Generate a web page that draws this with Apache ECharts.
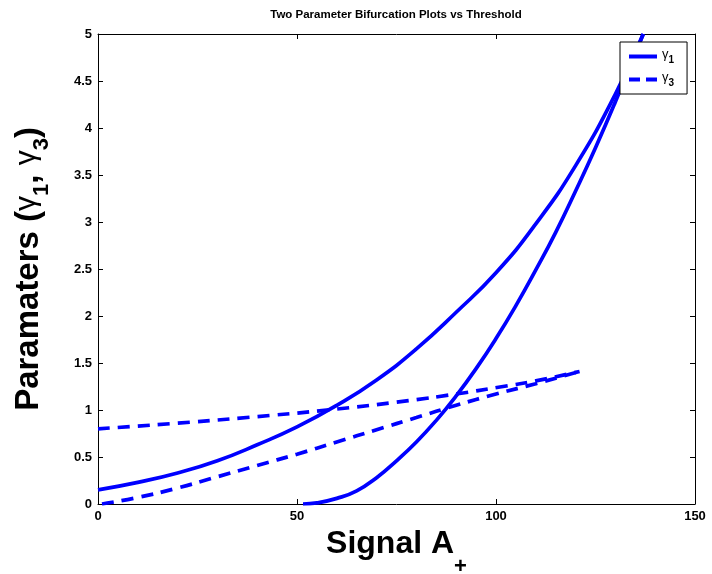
<!DOCTYPE html>
<html>
<head>
<meta charset="utf-8">
<script src="https://cdn.jsdelivr.net/npm/echarts@6/dist/echarts.min.js"></script>
<style>html,body{margin:0;padding:0;background:#fff}#c{width:712px;height:574px}</style>
</head>
<body>
<div id="c"></div>
<script>
// gamma1 upper branch
var g1UpperX = [0, 10, 20, 30, 40, 50, 60, 70, 80, 90, 100, 110, 120, 130, 137];
var g1UpperY = [0.15, 0.23, 0.33, 0.46, 0.63, 0.82, 1.05, 1.32, 1.65, 2.04, 2.46, 2.98, 3.60, 4.36, 5.0];
// gamma1 lower branch
var g1LowerX = [51.5, 55, 60, 65, 70, 75, 80, 85, 90, 95, 100, 105, 110, 115, 120, 125, 130, 137];
var g1LowerY = [0.0, 0.012, 0.06, 0.14, 0.28, 0.46, 0.66, 0.89, 1.15, 1.44, 1.76, 2.11, 2.49, 2.89, 3.33, 3.79, 4.28, 5.0];
// gamma3 upper branch
var g3UpperX = [0, 20, 40, 60, 78, 90, 101, 110, 121];
var g3UpperY = [0.80, 0.86, 0.93, 1.01, 1.10, 1.17, 1.245, 1.31, 1.41];
// gamma3 lower branch
var g3LowerX = [1, 10, 20, 30, 40, 50, 60, 70, 80, 90, 100, 110, 121];
var g3LowerY = [0.0, 0.07, 0.17, 0.29, 0.41, 0.53, 0.66, 0.79, 0.92, 1.05, 1.17, 1.28, 1.41];

var xTicks = [0, 50, 100, 150];
var yTicks = [0, 0.5, 1, 1.5, 2, 2.5, 3, 3.5, 4, 4.5, 5];

function pairs(xs, ys) { return xs.map(function (x, i) { return [x, ys[i]]; }); }

var FONT = '"Liberation Sans", Arial, Helvetica, sans-serif';
var BLUE = '#0000ff';

var chart = echarts.init(document.getElementById('c'), null, {renderer: 'canvas'});

function lineSeries(name, data, dashed) {
  return {
    name: name, type: 'line', data: data, smooth: true, symbol: 'none', showSymbol: false,
    clip: true, animation: false,
    lineStyle: {color: BLUE, width: 3.7, type: dashed ? [12, 8] : 'solid'},
    itemStyle: {color: BLUE}
  };
}

var axisCommonX = {
  type: 'value', min: 0, max: 150, interval: 50,
  axisLine: {show: true, onZero: false, lineStyle: {color: '#000', width: 1}},
  axisTick: {show: true, inside: true, length: 5, lineStyle: {color: '#000'}},
  splitLine: {show: false}
};
var axisCommonY = {
  type: 'value', min: 0, max: 5, interval: 0.5,
  axisLine: {show: true, onZero: false, lineStyle: {color: '#000', width: 1}},
  axisTick: {show: true, inside: true, length: 5, lineStyle: {color: '#000'}},
  splitLine: {show: false}
};

chart.setOption({
  backgroundColor: '#fff',
  animation: false,
  grid: {left: 98, right: 17, top: 34, bottom: 70, containLabel: false, outerBoundsMode: 'none'},
  graphic: [{
    type: 'text', x: 396, y: 9,
    style: {text: 'Two Parameter Bifurcation Plots vs Threshold', textAlign: 'center',
      font: 'bold 11.5px ' + FONT, fill: '#000'}
  }],
  legend: {
    orient: 'vertical', left: 620, top: 42,
    padding: [6, 13, 6, 9], itemGap: 6, itemWidth: 28, itemHeight: 4,
    backgroundColor: '#fff', borderColor: '#000', borderWidth: 1,
    data: [
      {name: 'g1', icon: 'path://M0,0H28V4H0Z'},
      {name: 'g3', icon: 'path://M0,0H11V4H0Z M17,0H28V4H17Z'}
    ],
    formatter: function (n) { return n === 'g1' ? '{g|γ}{s|1}' : '{g|γ}{s|3}'; },
    textStyle: {
      fontFamily: FONT, color: '#000',
      rich: {
        g: {fontSize: 13, fontFamily: FONT, lineHeight: 14, verticalAlign: 'top', color: '#000'},
        s: {fontSize: 10, fontFamily: FONT, fontWeight: 'bold', lineHeight: 17, verticalAlign: 'bottom', color: '#000'}
      }
    }
  },
  xAxis: [
    Object.assign({}, axisCommonX, {
      position: 'bottom',
      axisLabel: {show: true, color: '#000', fontWeight: 'bold', fontSize: 13, fontFamily: FONT, margin: 6,
        formatter: function (v) { return xTicks.indexOf(v) >= 0 ? String(v) : ''; }},
      name: '{m|Signal A}{s|+}', nameLocation: 'middle', nameGap: 17,
      nameTextStyle: {
        fontFamily: FONT, color: '#000',
        rich: {
          m: {fontSize: 32, fontWeight: 'bold', fontFamily: FONT, lineHeight: 36, verticalAlign: 'top', color: '#000'},
          s: {fontSize: 22, fontWeight: 'bold', fontFamily: FONT, lineHeight: 50, verticalAlign: 'bottom', color: '#000'}
        }
      }
    }),
    Object.assign({}, axisCommonX, {position: 'top', axisLabel: {show: false}})
  ],
  yAxis: [
    Object.assign({}, axisCommonY, {
      position: 'left',
      axisLabel: {show: true, color: '#000', fontWeight: 'bold', fontSize: 13, fontFamily: FONT, margin: 6,
        formatter: function (v) { return yTicks.indexOf(v) >= 0 ? String(v) : ''; }},
      name: '{m|Paramaters (}{g|γ}{s|1}{m|, }{g|γ}{s|3}{m|)}', nameLocation: 'middle', nameGap: 45, nameRotate: 90,
      nameTextStyle: {
        fontFamily: FONT, color: '#000',
        rich: {
          m: {fontSize: 33, fontWeight: 'bold', fontFamily: FONT, lineHeight: 36, verticalAlign: 'top', color: '#000'},
          g: {fontSize: 30, fontWeight: 'normal', fontFamily: FONT, lineHeight: 36, verticalAlign: 'top', color: '#000'},
          s: {fontSize: 22, fontWeight: 'bold', fontFamily: FONT, lineHeight: 41, verticalAlign: 'bottom', color: '#000'}
        }
      }
    }),
    Object.assign({}, axisCommonY, {position: 'right', axisLabel: {show: false}})
  ],
  series: [
    lineSeries('g1', pairs(g1UpperX, g1UpperY), false),
    lineSeries('g1', pairs(g1LowerX, g1LowerY), false),
    lineSeries('g3', pairs(g3UpperX, g3UpperY), true),
    lineSeries('g3', pairs(g3LowerX, g3LowerY), true)
  ]
});
</script>
</body>
</html>
